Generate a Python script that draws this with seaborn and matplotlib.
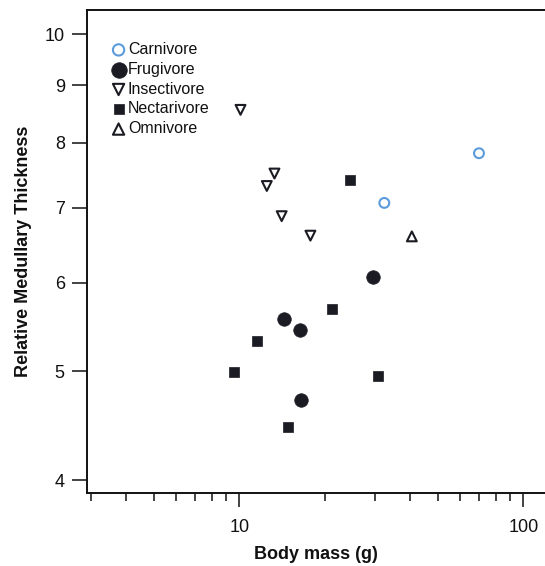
import matplotlib
matplotlib.use("Agg")
import matplotlib.pyplot as plt
import matplotlib.ticker as mticker
import numpy as np
import pandas as pd
import seaborn as sns

# ---- data ----
carn_mass = [32.4, 69.8]
carn_rmt = [7.07, 7.83]
frug_mass = [14.4, 16.3, 16.5, 29.5]
frug_rmt = [5.57, 5.44, 4.72, 6.07]
insect_mass = [10.1, 13.3, 12.5, 14.1, 17.8]
insect_rmt = [8.56, 7.51, 7.32, 6.88, 6.61]
nect_mass = [24.6, 21.2, 11.5, 9.6, 30.8, 14.9]
nect_rmt = [7.41, 5.68, 5.32, 4.99, 4.95, 4.46]
omni_mass = [40.5]
omni_rmt = [6.60]

categories = ["Carnivore", "Frugivore", "Insectivore", "Nectarivore", "Omnivore"]
x_ticks_major = [10, 100]
y_ticks = [4, 5, 6, 7, 8, 9, 10]

df = pd.concat([
    pd.DataFrame({"mass": carn_mass, "rmt": carn_rmt, "diet": "Carnivore"}),
    pd.DataFrame({"mass": frug_mass, "rmt": frug_rmt, "diet": "Frugivore"}),
    pd.DataFrame({"mass": insect_mass, "rmt": insect_rmt, "diet": "Insectivore"}),
    pd.DataFrame({"mass": nect_mass, "rmt": nect_rmt, "diet": "Nectarivore"}),
    pd.DataFrame({"mass": omni_mass, "rmt": omni_rmt, "diet": "Omnivore"}),
], ignore_index=True)

sns.set_theme(style="white")
plt.rcParams["font.family"] = ["Liberation Sans", "DejaVu Sans"]

dark = "#1b1b24"
styles = {
    "Carnivore": dict(marker="o", s=50, facecolor="none", edgecolor="#5b9bdc", linewidth=1.5),
    "Frugivore": dict(marker="o", s=95, facecolor=dark, edgecolor=dark, linewidth=0.5),
    "Insectivore": dict(marker="v", s=50, facecolor="none", edgecolor=dark, linewidth=1.5),
    "Nectarivore": dict(marker="s", s=45, facecolor=dark, edgecolor=dark, linewidth=0.5),
    "Omnivore": dict(marker="^", s=50, facecolor="none", edgecolor=dark, linewidth=1.5),
}

fig = plt.figure(figsize=(5.45, 5.66), dpi=100)
ax = fig.add_axes([87 / 545, 73 / 566, 458 / 545, 483 / 566])

for cat in categories:
    sub = df[df["diet"] == cat]
    sns.scatterplot(data=sub, x="mass", y="rmt", ax=ax, label=cat, **styles[cat])

ax.set_xscale("log")
ax.set_yscale("log")
ax.set_xlim(2.91, 119.2)
ax.set_ylim(3.895, 10.51)

ax.xaxis.set_major_locator(mticker.FixedLocator(x_ticks_major))
ax.xaxis.set_major_formatter(mticker.FixedFormatter([str(v) for v in x_ticks_major]))
ax.xaxis.set_minor_locator(mticker.LogLocator(base=10, subs=np.arange(2, 10), numticks=20))
ax.xaxis.set_minor_formatter(mticker.NullFormatter())

ax.yaxis.set_major_locator(mticker.FixedLocator(y_ticks))
ax.yaxis.set_major_formatter(mticker.FixedFormatter([str(v) for v in y_ticks]))
ax.yaxis.set_minor_locator(mticker.NullLocator())

for side in ["left", "bottom", "top"]:
    ax.spines[side].set_visible(True)
    ax.spines[side].set_color("#111111")
    ax.spines[side].set_linewidth(1.4)
ax.spines["right"].set_visible(False)

ax.tick_params(axis="both", which="major", direction="out", color="#111111",
               labelsize=13, labelcolor="#111111", width=1.1)
ax.tick_params(axis="y", which="major", length=11, pad=5, left=True)
ax.tick_params(axis="x", which="major", length=10, pad=9, bottom=True)
ax.tick_params(axis="x", which="minor", length=5.5, width=1.1, color="#111111", bottom=True)

ax.set_xlabel("Body mass (g)", fontsize=13, fontweight="bold", color="#111111")
ax.set_ylabel("Relative Medullary Thickness", fontsize=13, fontweight="bold", color="#111111")
ax.xaxis.set_label_coords(0.5, -0.11)
ax.yaxis.set_label_coords(-0.12, 0.5)

leg = ax.legend(loc="upper left", bbox_to_anchor=(0.021, 0.96), frameon=False,
                fontsize=11.5, handletextpad=0.0, labelspacing=0.3, borderpad=0.3,
                handlelength=1.15, markerscale=1.15)
for t in leg.get_texts():
    t.set_color("#111111")

ax.grid(False)
fig.savefig("out.png", dpi=100)
